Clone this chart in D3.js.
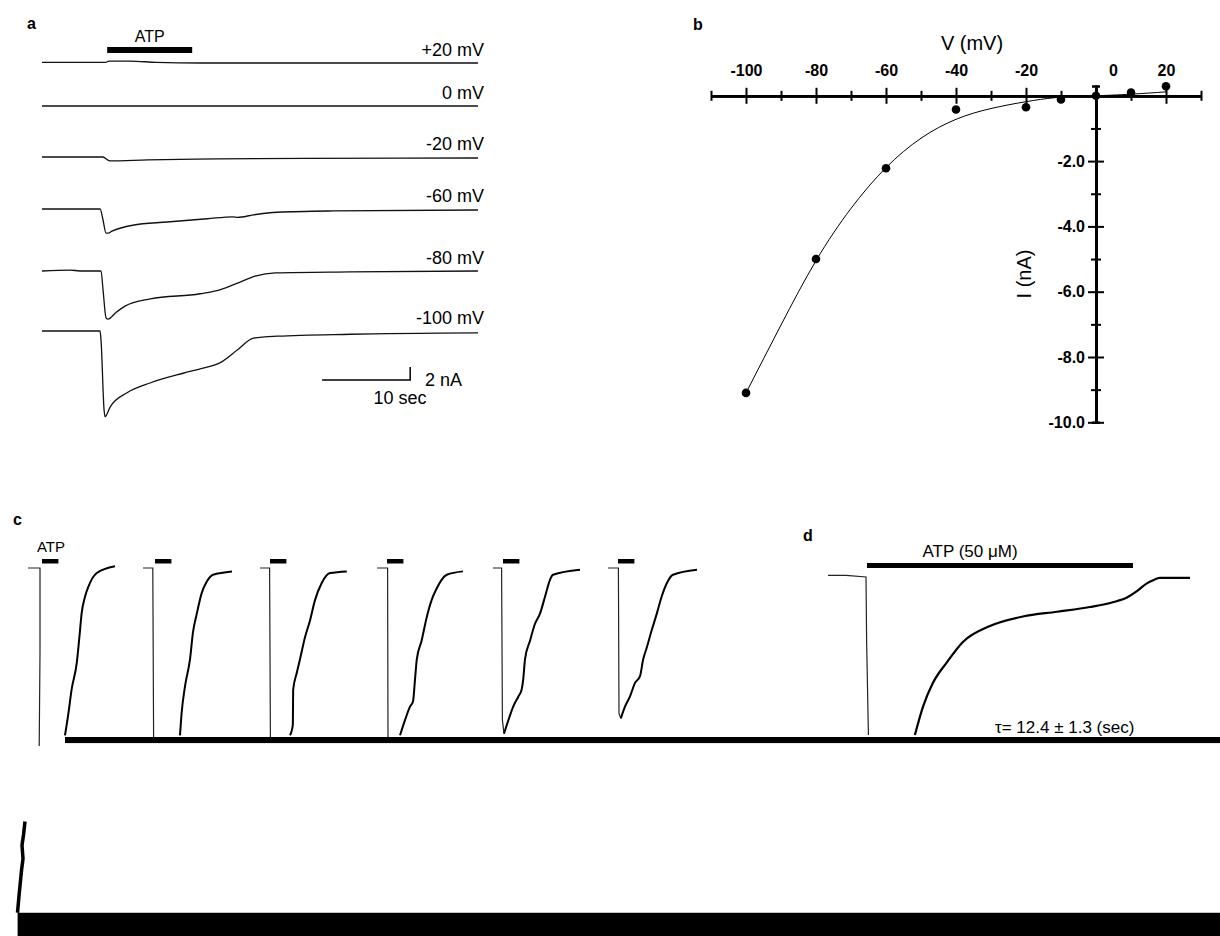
<!DOCTYPE html>
<html><head><meta charset="utf-8">
<script src="https://cdn.jsdelivr.net/npm/d3@7"></script>
<style>
body{margin:0;background:#fff;}
svg{display:block;font-family:Arial,"Liberation Sans",Helvetica,sans-serif;}
</style></head><body>
<svg id="fig" width="1220" height="936"></svg>
<script>
// ================= DATA =================
// ---- Panel a: current traces at holding potentials (time s, current nA) ----
const traceLabels = ["+20 mV","0 mV","-20 mV","-60 mV","-80 mV","-100 mV"];
const traceP20  = [[0,0.1],[7.2,0.1],[7.6,0.3],[10,0.3],[13,0.1],[18,0],[49.5,0]];
const trace0    = [[0,0],[20,0],[49.5,0]];
const traceM20  = [[0,0],[6.9,0],[7.7,-0.6],[12,-0.45],[20,-0.3],[30,-0.2],[49.5,-0.15]];
const traceM60  = [[0,0],[6.6,0],[6.9,-1.5],[7.27,-3.7],[7.5,-3.7],[7.95,-3.4],[10.3,-2.5],[14.2,-2.0],[18.75,-1.5],[21.7,-1.2],[22.2,-1.3],[24.0,-0.9],[26.7,-0.5],[33.1,-0.3],[49.5,-0.15]];
const traceM80  = [[0,0],[3.2,0.15],[4.3,0],[6.7,0],[6.93,-2.9],[7.27,-7.2],[7.5,-7.4],[8.3,-6.5],[9.43,-5.4],[12.3,-4.3],[17.95,-3.5],[20.2,-2.9],[22.5,-1.7],[24.2,-0.8],[26.5,-0.3],[35,-0.15],[49.5,0]];
const traceM100 = [[0,0],[6.59,0],[6.7,-1.4],[7.05,-12.2],[7.16,-13.2],[7.73,-11.7],[9.66,-9.5],[12.27,-8.0],[16.02,-6.5],[18.3,-5.7],[20.2,-4.9],[22.2,-2.9],[24.0,-1.1],[26.7,-0.8],[35,-0.5],[49.5,-0.3]];
const atpA = [7.4, 17.05];          // ATP application (s)
const scaleBarA = {t0: 31.8, dt: 10, dI: 2};

// ---- Panel b: I-V relation ----
const ivV = [-100,-80,-60,-40,-20,-10,0,10,20];
const ivI = [-9.1,-5.0,-2.22,-0.42,-0.35,-0.11,0,0.1,0.29];
const fitV = [-100,-90,-80,-70,-60,-50,-40,-30,-20,-12,-5,0,10,20];
const fitI = [-9.1,-7.02,-5.05,-3.45,-2.2,-1.3,-0.72,-0.39,-0.18,-0.06,-0.01,0,0.05,0.12];
const xMajor = [-100,-80,-60,-40,-20,0,20];
const xMinor = [-110,-90,-70,-50,-30,-10,10,30];
const yMajor = [-2,-4,-6,-8,-10];
const yMinor = [-1,-3,-5,-7,-9];

// ---- Panel c: repeated ATP applications (time s, normalised current) ----
const cDrops = [
  [[0,0],[3,0],[3,-0.5],[2.8,-1.06]],
  [[28.75,0],[31.2,0],[31.4,-1.0]],
  [[58,0],[60.4,0],[60.6,-1.0]],
  [[87.25,0],[89.9,0],[90.0,-1.0]],
  [[116.25,0],[118.4,0],[118.6,-0.9],[119,-0.98]],
  [[145,0],[147.6,0],[147.75,-0.86],[148.2,-0.89]]
];
const cRecoveries = [
  [[9.25,-0.99],[10.1,-0.86],[10.9,-0.72],[12.2,-0.56],[13,-0.37],[13.4,-0.27],[14.25,-0.17],[15.1,-0.11],[17.2,-0.03],[21.75,0.01]],
  [[38,-0.99],[38.4,-0.86],[39.25,-0.70],[40.5,-0.54],[41.25,-0.38],[42.2,-0.27],[43.4,-0.15],[44.7,-0.08],[46.25,-0.04],[51,-0.02]],
  [[65.5,-0.99],[66.2,-0.93],[66.3,-0.72],[67.2,-0.62],[68,-0.54],[69.25,-0.41],[70.5,-0.31],[71.75,-0.19],[73.4,-0.09],[75.5,-0.03],[79.7,-0.02]],
  [[93,-0.99],[94.25,-0.90],[95.5,-0.82],[96.25,-0.79],[96.75,-0.66],[97.2,-0.54],[98.4,-0.43],[99.7,-0.29],[100.9,-0.19],[102.2,-0.12],[103.4,-0.07],[104.7,-0.04],[108.75,-0.02]],
  [[119,-0.98],[120.1,-0.90],[121.3,-0.82],[122.6,-0.76],[123.4,-0.72],[123.8,-0.66],[124.25,-0.54],[125.5,-0.43],[126.75,-0.33],[128,-0.27],[129.25,-0.17],[130.5,-0.07],[131.25,-0.04],[138,-0.01]],
  [[148.2,-0.89],[149.25,-0.82],[150.5,-0.76],[151.75,-0.68],[153,-0.64],[153.8,-0.54],[154.7,-0.47],[155.9,-0.37],[157.2,-0.27],[158.4,-0.17],[159.7,-0.09],[161.25,-0.04],[167.25,-0.01]]
];
const cAtpOn = [3.5,31.75,60.5,89.75,118.75,147.5];
const cAtpDur = 4.1;
const cTail = [[-0.75,-1.50],[-1.125,-1.58],[-1.5,-1.64],[-1.25,-1.72],[-1.625,-1.79],[-1.875,-1.85],[-2.25,-1.94],[-2.625,-2.04]];

// ---- Panel d: prolonged ATP (50 uM) ----
const dDrop = [[0,0.01],[3,0.01],[6.3,0],[6.4,-0.4],[6.7,-1.0]];
const dRecovery = [[14.4,-1.0],[15.75,-0.82],[17.4,-0.67],[19.7,-0.54],[22.4,-0.41],[26.85,-0.31],[32.3,-0.25],[37.95,-0.22],[43.4,-0.19],[47.2,-0.16],[49.55,-0.13],[51.2,-0.09],[52.85,-0.04],[53.9,-0.02],[55,-0.006],[60,-0.006]];
const atpD = [6.46, 50.55];
const tauText = "\u03C4= 12.4 \u00B1 1.3 (sec)";

// ================= DRAWING =================
const svg = d3.select("#fig");
svg.append("rect").attr("width",1220).attr("height",936).attr("fill","#fff");

function panelLabel(t,x,y){
  svg.append("text").attr("x",x).attr("y",y).attr("font-size",16).attr("font-weight","bold").text(t);
}

// ---------- Panel a ----------
panelLabel("a",27,29);
const xA = d3.scaleLinear().domain([0,49.5]).range([42,478]);
const baseA = [63,106,157,209,271,331];
const aTraces = [traceP20,trace0,traceM20,traceM60,traceM80,traceM100];
aTraces.forEach((tr,i)=>{
  const y = d3.scaleLinear().domain([0,-2]).range([baseA[i],baseA[i]+13]);
  svg.append("path").datum(tr)
    .attr("d", d3.line().x(d=>xA(d[0])).y(d=>y(d[1])).curve(d3.curveMonotoneX))
    .attr("fill","none").attr("stroke","#111").attr("stroke-width",1.3);
  svg.append("text").attr("x",484).attr("y",baseA[i]-7).attr("text-anchor","end")
    .attr("font-size",18).text(traceLabels[i]);
});
svg.append("rect").attr("x",xA(atpA[0])).attr("y",47).attr("width",xA(atpA[1])-xA(atpA[0])).attr("height",6).attr("fill","#000");
svg.append("text").attr("x",(xA(atpA[0])+xA(atpA[1]))/2).attr("y",42).attr("text-anchor","middle").attr("font-size",16).text("ATP");
// scale bar
const ySB = d3.scaleLinear().domain([0,2]).range([380,367]);
svg.append("path")
  .attr("d", `M${xA(scaleBarA.t0)},${ySB(0)}H${xA(scaleBarA.t0+scaleBarA.dt)}V${ySB(scaleBarA.dI)}`)
  .attr("fill","none").attr("stroke","#000").attr("stroke-width",1.5);
svg.append("text").attr("x",425).attr("y",386).attr("font-size",18).text("2 nA");
svg.append("text").attr("x",400).attr("y",404).attr("text-anchor","middle").attr("font-size",18).text("10 sec");

// ---------- Panel b ----------
panelLabel("b",693,30);
const xB = d3.scaleLinear().domain([-110,30]).range([711,1201]);
const yB = d3.scaleLinear().domain([0.3,-10]).range([86,422.3]);
const y0 = yB(0), x0 = xB(0);
const gB = svg.append("g");
// x axis
const gx = gB.append("g").attr("transform",`translate(0,${y0})`);
gx.call(d3.axisTop(xB).tickValues(xMajor).tickSize(8).tickSizeOuter(0).tickPadding(12).tickFormat(d=>String(d)));
gx.append("g").call(d3.axisBottom(xB).tickValues(xMajor).tickSize(8).tickSizeOuter(0).tickFormat(""));
gx.append("g").call(d3.axisTop(xB).tickValues(xMinor).tickSize(5).tickSizeOuter(0).tickFormat(""));
gx.append("g").call(d3.axisBottom(xB).tickValues(xMinor).tickSize(5).tickSizeOuter(0).tickFormat(""));
gx.selectAll(".tick text").filter(d=>d===0).attr("x",17);
// y axis
const gy = gB.append("g").attr("transform",`translate(${x0},0)`);
gy.call(d3.axisLeft(yB).tickValues(yMajor).tickSize(8).tickSizeOuter(4).tickPadding(3).tickFormat(d=>d.toFixed(1)));
gy.append("g").call(d3.axisRight(yB).tickValues(yMajor).tickSize(8).tickSizeOuter(4).tickFormat(""));
gy.append("g").call(d3.axisLeft(yB).tickValues(yMinor).tickSize(5).tickSizeOuter(0).tickFormat(""));
gy.append("g").call(d3.axisRight(yB).tickValues(yMinor).tickSize(5).tickSizeOuter(0).tickFormat(""));
gB.selectAll(".domain").attr("stroke","#000").attr("stroke-width",2.5);
gB.selectAll(".tick line").attr("stroke","#000").attr("stroke-width",2);
gB.selectAll(".tick text").attr("font-size",16).attr("font-weight","bold").attr("fill","#000")
  .attr("font-family","Arial, 'Liberation Sans', sans-serif");
svg.append("text").attr("x",972).attr("y",50).attr("text-anchor","middle").attr("font-size",20).text("V (mV)");
svg.append("text").attr("transform","translate(1031,274) rotate(-90)").attr("text-anchor","middle").attr("font-size",20).text("I (nA)");
// fit
const fit = fitV.map((v,i)=>[v,fitI[i]]);
svg.append("path").datum(fit)
  .attr("d", d3.line().x(d=>xB(d[0])).y(d=>yB(d[1])).curve(d3.curveNatural))
  .attr("fill","none").attr("stroke","#000").attr("stroke-width",1);
svg.selectAll("circle.iv").data(ivV.map((v,i)=>[v,ivI[i]])).join("circle")
  .attr("class","iv").attr("cx",d=>xB(d[0])).attr("cy",d=>yB(d[1])).attr("r",4.3).attr("fill","#000");

// ---------- Panel c ----------
panelLabel("c",13,525);
const clip = svg.append("defs").append("clipPath").attr("id","cdclip");
clip.append("rect").attr("x",0).attr("y",500).attr("width",1220).attr("height",246);
const xC = d3.scaleLinear().domain([0,170]).range([28,708]);
const yC = d3.scaleLinear().domain([0,-1]).range([568,737]);
const gC = svg.append("g").attr("clip-path","url(#cdclip)");
const lineCLin = d3.line().x(d=>xC(d[0])).y(d=>yC(d[1]));
const lineCSmooth = d3.line().x(d=>xC(d[0])).y(d=>yC(d[1])).curve(d3.curveMonotoneX);
cDrops.forEach(dr=>{
  gC.append("path").datum(dr).attr("d",lineCLin).attr("fill","none").attr("stroke","#222").attr("stroke-width",1.2);
});
cRecoveries.forEach(rc=>{
  gC.append("path").datum(rc).attr("d",lineCSmooth).attr("fill","none").attr("stroke","#000").attr("stroke-width",2);
});
cAtpOn.forEach(t=>{
  svg.append("rect").attr("x",xC(t)).attr("y",yC(0)-9).attr("width",xC(t+cAtpDur)-xC(t)).attr("height",4.5).attr("fill","#000");
});
svg.append("text").attr("x",51).attr("y",552).attr("text-anchor","middle").attr("font-size",15).text("ATP");

// ---------- Panel d ----------
panelLabel("d",803,541);
const xD = d3.scaleLinear().domain([0,60]).range([828,1190]);
const yD = d3.scaleLinear().domain([0,-1]).range([577,735]);
const gD = svg.append("g").attr("clip-path","url(#cdclip)");
gD.append("path").datum(dDrop).attr("d",d3.line().x(d=>xD(d[0])).y(d=>yD(d[1]))).attr("fill","none").attr("stroke","#222").attr("stroke-width",1.2);
gD.append("path").datum(dRecovery).attr("d",d3.line().x(d=>xD(d[0])).y(d=>yD(d[1])).curve(d3.curveMonotoneX)).attr("fill","none").attr("stroke","#000").attr("stroke-width",2.2);
svg.append("rect").attr("x",xD(atpD[0])).attr("y",yD(0)-14).attr("width",xD(atpD[1])-xD(atpD[0])).attr("height",5).attr("fill","#000");
svg.append("text").attr("x",970).attr("y",557).attr("text-anchor","middle").attr("font-size",17).text("ATP (50 \u03BCM)");
svg.append("text").attr("x",995).attr("y",733).attr("font-size",17).text(tauText);

// black baseline bar under c and d
svg.append("rect").attr("x",xC(9.25)).attr("y",yC(-1.0)).attr("width",1220-xC(9.25)).attr("height",yC(-1.036)-yC(-1.0)).attr("fill","#000");
// off-scale tail of first response and bottom bar
svg.append("path").datum(cTail).attr("d",d3.line().x(d=>xC(d[0])).y(d=>yC(d[1]))).attr("fill","none").attr("stroke","#000").attr("stroke-width",3.5);
svg.append("rect").attr("x",xC(-2.6)).attr("y",yC(-2.04)).attr("width",1220-xC(-2.6)).attr("height",936-yC(-2.04)).attr("fill","#000");
</script>
</body></html>
